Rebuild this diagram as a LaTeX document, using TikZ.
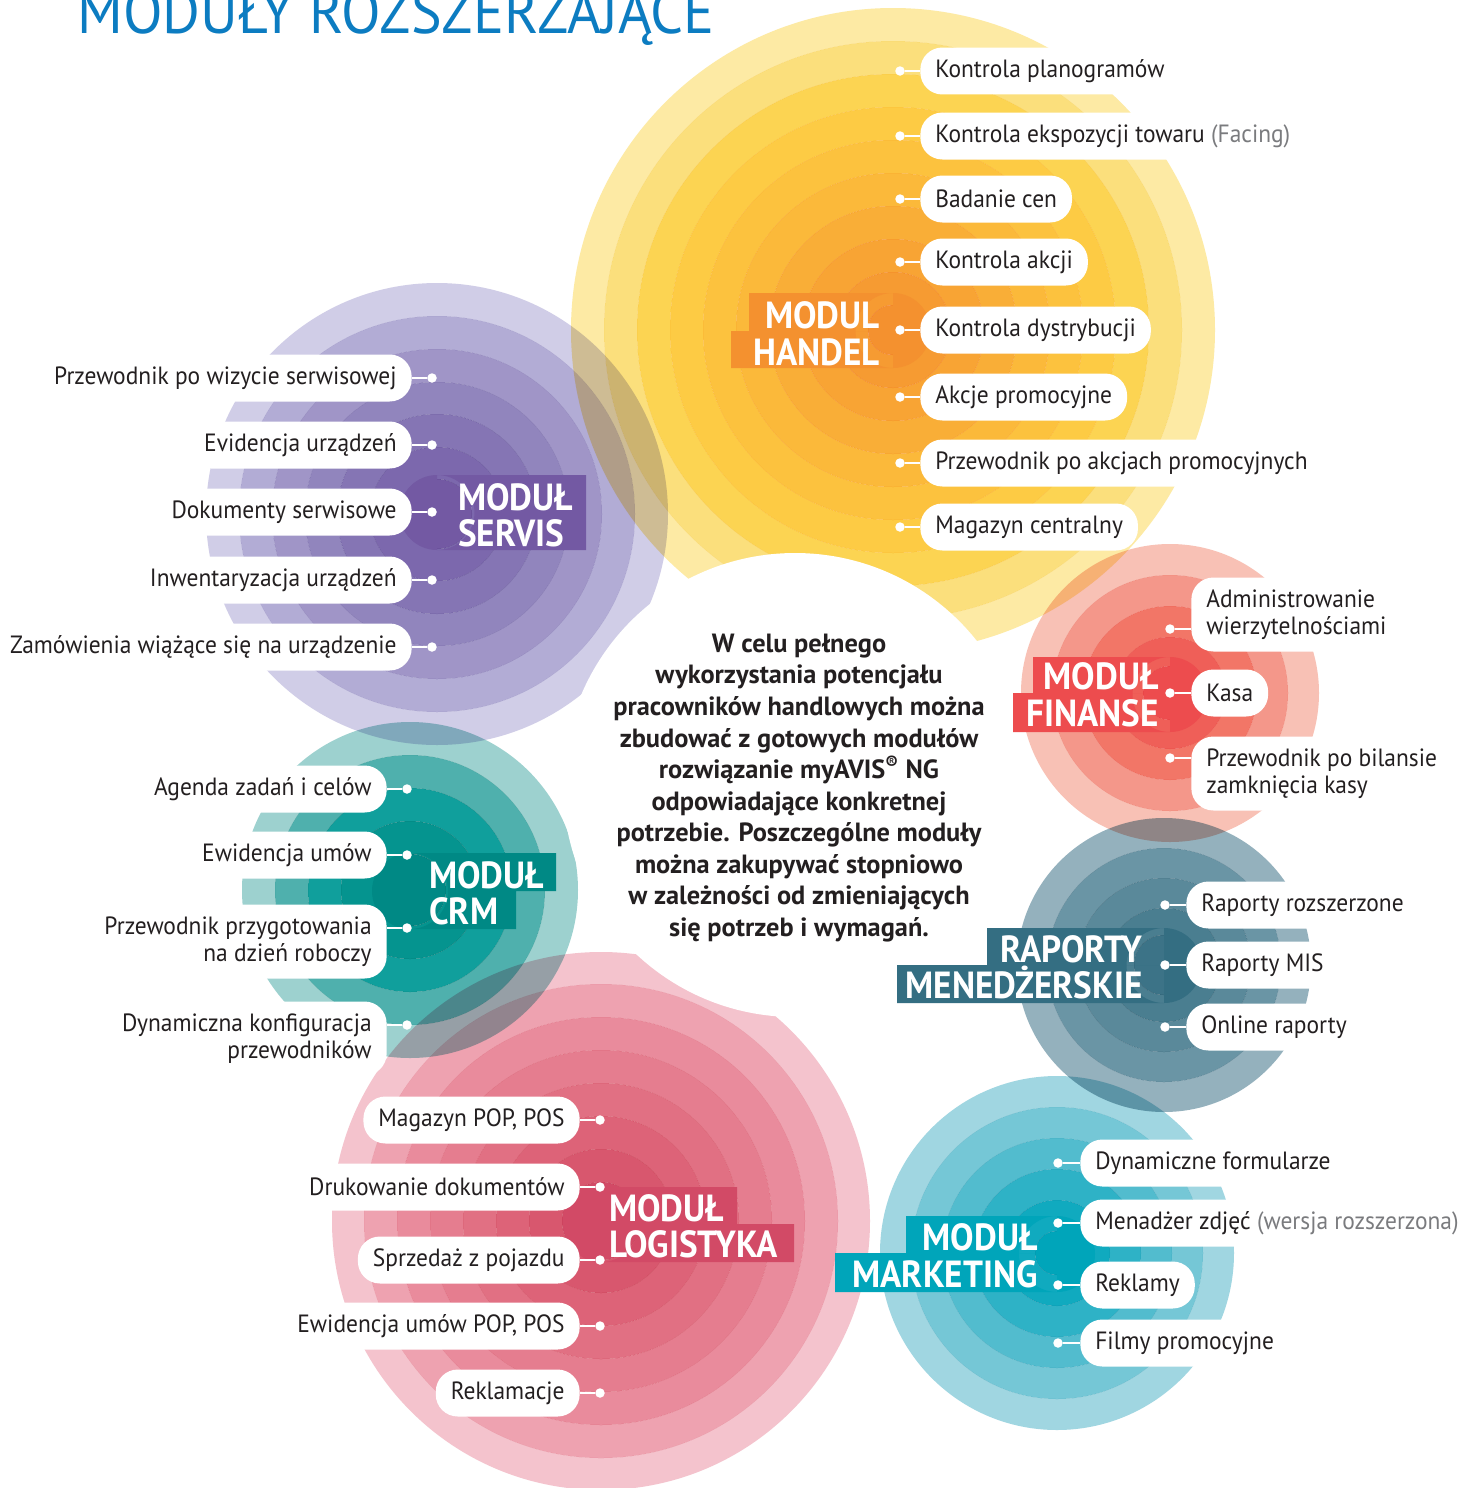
\documentclass[tikz,border=0pt]{standalone}
\usepackage{fontspec}
\setmainfont{PT Sans}
\newfontfamily\labf{PT Sans}[FakeStretch=0.94]
\newfontfamily\modf{PT Sans}[FakeStretch=0.93]
\newfontfamily\titf{PT Sans}[FakeStretch=0.94]
\newfontfamily\cenf{PT Sans}[FakeStretch=1.0]
\usetikzlibrary{calc}
\definecolor{txt}{HTML}{231F20}
\definecolor{gtxt}{HTML}{7A7B7E}
\definecolor{titc}{HTML}{0C7CC1}
% handel
\definecolor{hA}{HTML}{FDEAA4}\definecolor{hB}{HTML}{FBDF7C}\definecolor{hC}{HTML}{FCD452}
\definecolor{hD}{HTML}{FDCB44}\definecolor{hE}{HTML}{FCC23E}\definecolor{hF}{HTML}{FBB93A}
\definecolor{hG}{HTML}{F9AE37}\definecolor{hH}{HTML}{F8A434}\definecolor{hI}{HTML}{F69B32}
\definecolor{hJ}{HTML}{F4912F}
% servis
\definecolor{sA}{HTML}{D0CDE7}\definecolor{sB}{HTML}{B2ACD5}\definecolor{sC}{HTML}{A095C7}
\definecolor{sD}{HTML}{9185BD}\definecolor{sE}{HTML}{8575B4}\definecolor{sF}{HTML}{7C68AD}
\definecolor{sG}{HTML}{7359A3}
% crm
\definecolor{cA}{HTML}{9DD1CF}\definecolor{cB}{HTML}{4FB0AD}\definecolor{cC}{HTML}{109F9C}
\definecolor{cD}{HTML}{05948F}\definecolor{cE}{HTML}{008985}
% logistyka
\definecolor{lA}{HTML}{F4C3CD}\definecolor{lB}{HTML}{EEA2B0}\definecolor{lC}{HTML}{E98B9C}
\definecolor{lD}{HTML}{E57D8F}\definecolor{lE}{HTML}{E17083}\definecolor{lF}{HTML}{DD6378}
\definecolor{lG}{HTML}{D8576E}\definecolor{lH}{HTML}{D24A66}
% marketing
\definecolor{mA}{HTML}{A0D6E1}\definecolor{mB}{HTML}{75C7D6}\definecolor{mC}{HTML}{52BCCE}
\definecolor{mD}{HTML}{2EB2C6}\definecolor{mE}{HTML}{10AABF}\definecolor{mF}{HTML}{00A5BA}
% raporty
\definecolor{rA}{HTML}{94B1BD}\definecolor{rB}{HTML}{6A95A5}\definecolor{rC}{HTML}{5A899A}
\definecolor{rD}{HTML}{4A7E90}\definecolor{rE}{HTML}{3C7387}\definecolor{rBox}{HTML}{346E82}
% finanse
\definecolor{fA}{HTML}{F8C1B5}\definecolor{fB}{HTML}{F4978A}\definecolor{fC}{HTML}{F27667}
\definecolor{fD}{HTML}{EF5F58}\definecolor{fE}{HTML}{ED4C4E}

\newcommand\drawrings[2]{\foreach \ro/\ri/\cc in {#2}{\fill[\cc,even odd rule] #1 circle[radius=\ro] #1 circle[radius=\ri];}}

\tikzset{
 pill/.style={fill=white, rounded corners=0.44cm, minimum height=0.94cm, inner xsep=0.3cm, inner ysep=0pt, text=txt, font=\labf\fontsize{14.2}{15.3}\selectfont},
 pilltwo/.style={pill, minimum height=1.48cm},
 dotn/.style={circle, fill=white, minimum size=0.19cm, inner sep=0pt},
 conn/.style={draw=white, line width=0.04cm},
 modlab/.style={text=white, inner sep=0pt, font=\modf\bfseries\fontsize{21.5}{21}\selectfont},
}

\begin{document}
\begin{tikzpicture}[x=0.02cm,y=-0.02cm]
\useasboundingbox (0,0) rectangle (1464,1488);
\fill[white] (0,0) rectangle (1464,1488);

% ---------- rings ----------
\begin{scope}[blend mode=multiply]
\drawrings{(893,330)}{322/289/hA,289/256/hB,256/223/hC,223/190/hD,190/157/hE,157/124/hF,124/91/hG,91/58/hH,58/25/hI,25/0.01/hJ}
\drawrings{(437,514)}{231/198/sA,198/165/sB,165/132/sC,132/100/sD,100/67/sE,67/35/sF,35/0.01/sG}
\drawrings{(410,890)}{168/135/cA,135/102/cB,102/69/cC,69/36/cD,36/0.01/cE}
\drawrings{(601,1221)}{269/237/lA,237/204/lB,204/171/lC,171/138/lD,138/105/lE,105/72/lF,72/39/lG,39/0.01/lH}
\drawrings{(1057,1253)}{177/146/mA,146/115/mB,115/84/mC,84/53/mD,53/22/mE,22/0.01/mF}
\drawrings{(1164,965)}{147/117/rA,117/87/rB,87/57/rC,57/30/rD,30/0.01/rE}
\drawrings{(1170,693)}{149/118/fA,118/87/fB,87/56/fC,56/27/fD,27/0.01/fE}
\end{scope}

% central white disc
\fill[white] (795,785) circle[radius=232];

% ---------- label boxes ----------
\fill[hJ] (749,293) rectangle (893,331) (731,331) rectangle (893,368) (893,330.5) circle[radius=37.5];
\fill[sG] (437,475) rectangle (586,550) (437,512.5) circle[radius=37.5];
\fill[cE] (410,853) rectangle (556,891) (410,891) rectangle (516,929) (410,891) circle[radius=38];
\fill[lH] (601,1187) rectangle (737,1224) (601,1224) rectangle (794,1262) (601,1224.5) circle[radius=37.5];
\fill[mF] (906,1216) rectangle (1057,1253) (835,1253) rectangle (1057,1292) (1057,1254) circle[radius=38];
\fill[rBox] (987,928) rectangle (1164,965) (897,965) rectangle (1164,1003) (1164,965.5) circle[radius=37.5];
\fill[fE] (1033,657) rectangle (1170,693) (1013,693) rectangle (1170,732) (1170,694.5) circle[radius=37.5];

% ---------- title ----------
\node[anchor=base west, inner sep=0pt, text=titc, font=\titf\fontsize{35}{35}\selectfont] (title) at (77,33) {MODUŁY ROZSZERZAJĄCE};

% ---------- HANDEL ----------
\node[modlab, anchor=base east] (hl1) at (880,328) {MODUL};
\node[modlab, anchor=base east] (hl2) at (880,365) {HANDEL};
\foreach \i/\yy/\tt in {1/71/{Kontrola planogramów},2/136/{Kontrola ekspozycji towaru \textcolor{gtxt}{(Facing)}},3/199/{Badanie cen},4/262/{Kontrola akcji},5/330/{Kontrola dystrybucji},6/397/{Akcje promocyjne},7/463/{Przewodnik po akcjach promocyjnych},8/527/{Magazyn centralny}}{
 \node[pill, anchor=west] (h\i) at (920,\yy) {\tt};
 \node[dotn] (hd\i) at (900,\yy) {};
 \draw[conn] (hd\i) -- (h\i.west |- hd\i);
}

% ---------- SERVIS ----------
\node[modlab, anchor=base west] (sl1) at (458,510) {MODUŁ};
\node[modlab, anchor=base west] (sl2) at (458,546) {SERVIS};
\foreach \i/\yy/\tt in {1/378/{Przewodnik po wizycie serwisowej},2/445/{Evidencja urządzeń},3/512/{Dokumenty serwisowe},4/580/{Inwentaryzacja urządzeń},5/647/{Zamówienia wiążące się na urządzenie}}{
 \node[pill, anchor=east] (s\i) at (412,\yy) {\tt};
 \node[dotn] (sd\i) at (432,\yy) {};
 \draw[conn] (sd\i) -- (s\i.east |- sd\i);
}

% ---------- CRM ----------
\node[modlab, anchor=base west] (cl1) at (429,888) {MODUŁ};
\node[modlab, anchor=base west] (cl2) at (429,924) {CRM};
\node[pill, anchor=east] (c1) at (387,789) {Agenda zadań i celów};
\node[pill, anchor=east] (c2) at (387,855) {Ewidencja umów};
\node[pilltwo, anchor=east, align=right] (c3) at (387,941.5) {Przewodnik przygotowania\\na dzień roboczy};
\node[pilltwo, anchor=east, align=right] (c4) at (387,1038.5) {Dynamiczna konfiguracja\\przewodników};
\foreach \i/\yy in {1/789,2/855,3/928,4/1025}{
 \node[dotn] (cd\i) at (407,\yy) {};
 \draw[conn] (cd\i) -- (c\i.east |- cd\i);
}

% ---------- LOGISTYKA ----------
\node[modlab, anchor=base west] (ll1) at (609,1221) {MODUŁ};
\node[modlab, anchor=base west] (ll2) at (609,1257) {LOGISTYKA};
\foreach \i/\yy/\tt in {1/1120/{Magazyn POP, POS},2/1187/{Drukowanie dokumentów},3/1260/{Sprzedaż z pojazdu},4/1326/{Ewidencja umów POP, POS},5/1393/{Reklamacje}}{
 \node[pill, anchor=east] (l\i) at (580,\yy) {\tt};
 \node[dotn] (ld\i) at (600,\yy) {};
 \draw[conn] (ld\i) -- (l\i.east |- ld\i);
}

% ---------- MARKETING ----------
\node[modlab, anchor=base east] (ml1) at (1038,1250) {MODUŁ};
\node[modlab, anchor=base east] (ml2) at (1038,1287) {MARKETING};
\foreach \i/\yy/\tt in {1/1163/{Dynamiczne formularze},2/1223/{Menadżer zdjęć \textcolor{gtxt}{(wersja rozszerzona)}},3/1285/{Reklamy},4/1343/{Filmy promocyjne}}{
 \node[pill, anchor=west] (m\i) at (1080,\yy) {\tt};
 \node[dotn] (md\i) at (1058,\yy) {};
 \draw[conn] (md\i) -- (m\i.west |- md\i);
}

% ---------- RAPORTY ----------
\node[modlab, anchor=base east] (rl1) at (1143,962) {RAPORTY};
\node[modlab, anchor=base east] (rl2) at (1143,998) {MENEDŻERSKIE};
\foreach \i/\yy/\tt in {1/905/{Raporty rozszerzone},2/965/{Raporty MIS},3/1027/{Online raporty}}{
 \node[pill, anchor=west] (r\i) at (1186,\yy) {\tt};
 \node[dotn] (rd\i) at (1165,\yy) {};
 \draw[conn] (rd\i) -- (r\i.west |- rd\i);
}

% ---------- FINANSE ----------
\node[modlab, anchor=base east] (fl1) at (1159,689) {MODUŁ};
\node[modlab, anchor=base east] (fl2) at (1159,726) {FINANSE};
\node[pilltwo, anchor=west, align=left] (f1) at (1191,614.5) {Administrowanie\\wierzytelnościami};
\node[pill, anchor=west] (f2) at (1191,693) {Kasa};
\node[pilltwo, anchor=west, align=left] (f3) at (1191,773.5) {Przewodnik po bilansie\\zamknięcia kasy};
\foreach \i/\yy in {1/629,2/693,3/758}{
 \node[dotn] (fd\i) at (1170,\yy) {};
 \draw[conn] (fd\i) -- (f\i.west |- fd\i);
}

% ---------- centre text ----------
\node[align=center, text=txt, inner sep=0pt, font=\cenf\bfseries\fontsize{15}{17.97}\selectfont] (centre) at (799,788) {W celu pełnego\\wykorzystania potencjału\\pracowników handlowych można\\zbudować z gotowych modułów\\rozwiązanie myAVIS\textsuperscript{®} NG\\odpowiadające konkretnej\\potrzebie. Poszczególne moduły\\można zakupywać stopniowo\\w zależności od zmieniających\\się potrzeb i wymagań.};
\end{tikzpicture}
\end{document}
